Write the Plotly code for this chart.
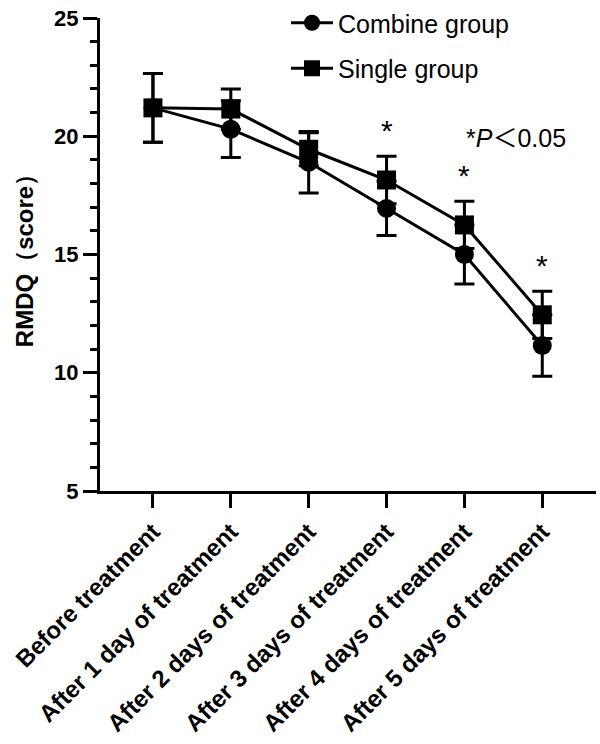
import plotly.graph_objects as go

categories = ["Before treatment", "After 1 day of treatment", "After 2 days of treatment",
              "After 3 days of treatment", "After 4 days of treatment", "After 5 days of treatment"]
combine_mean = [21.2, 20.3, 18.9, 16.95, 15.0, 11.15]
combine_err = [1.45, 1.2, 1.3, 1.15, 1.25, 1.3]
single_mean = [21.2, 21.15, 19.45, 18.15, 16.25, 12.45]
single_err = [1.45, 0.85, 0.7, 1.0, 1.0, 1.0]
sig_index = [3, 4, 5]
y_ticks = [5, 10, 15, 20, 25]

FONT = "Liberation Sans, Arial, sans-serif"
CJK = "Noto Sans CJK SC"

fig = go.Figure()
fig.add_trace(go.Scatter(
    x=categories, y=combine_mean, name="Combine group", legendgroup="a",
    mode="lines+markers",
    line=dict(color="black", width=3),
    marker=dict(symbol="circle", size=19, color="black"),
    error_y=dict(type="data", array=combine_err, visible=True, color="black", thickness=3, width=10),
    cliponaxis=False,
))
fig.add_trace(go.Scatter(
    x=categories, y=single_mean, name="Single group", legendgroup="b",
    mode="lines+markers",
    line=dict(color="black", width=3),
    marker=dict(symbol="square", size=19, color="black"),
    error_y=dict(type="data", array=single_err, visible=True, color="black", thickness=3, width=10),
    cliponaxis=False,
))

annotations = []
for i in sig_index:
    annotations.append(dict(
        x=categories[i], y=single_mean[i] + single_err[i], xref="x", yref="y",
        text="*", showarrow=False, yanchor="bottom", yshift=7,
        font=dict(family=FONT, size=30, color="black"),
    ))
annotations.append(dict(
    x=0.839, y=0.750, xref="paper", yref="paper",
    text="*<i>P</i><span style=\"font-family:'" + CJK + "'\">＜</span>0.05",
    showarrow=False, xanchor="center", yanchor="middle",
    font=dict(family=FONT, size=25, color="black"),
))

fig.update_layout(
    width=600, height=744,
    margin=dict(l=100, r=4, t=18, b=253, autoexpand=False),
    paper_bgcolor="white", plot_bgcolor="white",
    font=dict(family=FONT, color="black"),
    showlegend=True,
    legend=dict(
        x=0.375, y=1.038, xanchor="left", yanchor="top",
        font=dict(family=FONT, size=25, color="black"),
        bgcolor="rgba(0,0,0,0)", traceorder="grouped", tracegroupgap=10,
        itemwidth=42,
    ),
    annotations=annotations,
    xaxis=dict(
        type="category", range=[-0.68, 5.69],
        showline=True, linecolor="black", linewidth=3,
        ticks="outside", ticklen=14, tickwidth=3, tickcolor="black",
        tickangle=-45, showgrid=False, zeroline=False, ticklabeloverflow="allow",
        tickfont=dict(family=FONT, size=24, color="black", weight="bold"),
    ),
    yaxis=dict(
        range=[5, 25], tickvals=y_ticks,
        showline=True, linecolor="black", linewidth=3,
        ticks="outside", ticklen=14, tickwidth=3, tickcolor="black",
        showgrid=False, zeroline=False, ticklabeloverflow="allow",
        tickfont=dict(family=FONT, size=22, color="black", weight="bold"),
        minor=dict(dtick=1, ticks="outside", ticklen=7, tickwidth=3, tickcolor="black", showgrid=False),
        title=dict(text="RMDQ（score）", standoff=14,
                   font=dict(family=FONT, size=24, color="black", weight="bold")),
    ),
)

fig.write_html("out.html", config={"displayModeBar": False},
               post_script="document.body.style.margin='0';")
